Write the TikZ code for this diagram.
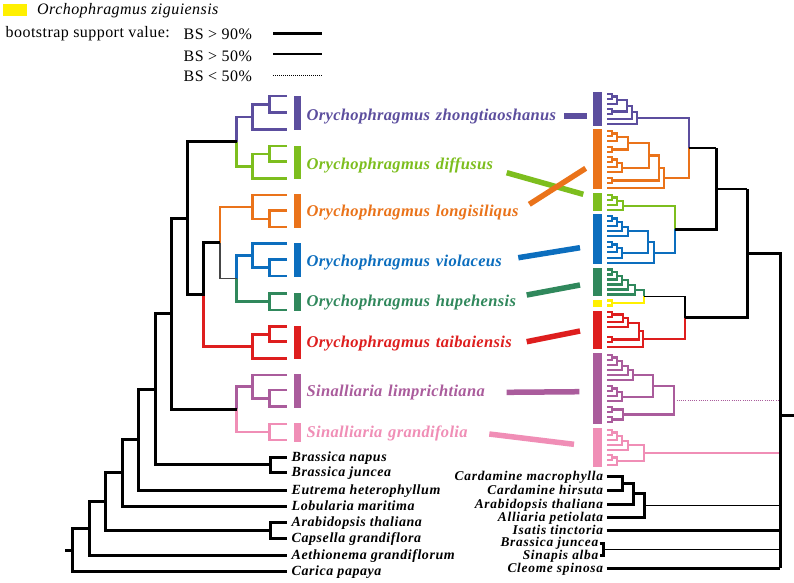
\documentclass[tikz,border=0pt]{standalone}
\usepackage{fontspec}
\setmainfont{Liberation Serif}
\newfontfamily\labfont[LetterSpace=2,WordSpace=1.3]{Liberation Serif}
\newfontfamily\blkfont[LetterSpace=4]{Liberation Serif}
\newfontfamily\blkrfont[LetterSpace=5.5]{Liberation Serif}
\newfontfamily\legfont[LetterSpace=2.8]{Liberation Serif}
\definecolor{cPu}{RGB}{92,78,158}
\definecolor{cGr}{RGB}{125,190,30}
\definecolor{cOr}{RGB}{234,115,26}
\definecolor{cBl}{RGB}{12,110,190}
\definecolor{cHu}{RGB}{48,136,92}
\definecolor{cRe}{RGB}{222,30,30}
\definecolor{cLi}{RGB}{170,92,156}
\definecolor{cPi}{RGB}{240,142,182}
\definecolor{cYe}{RGB}{255,240,0}
\definecolor{cGy}{RGB}{70,70,70}
% bracket: x1 y1 x2 y2 nodex
\newcommand\tbr[6][]{\draw[#1] (#2,#3) -| (#6,#5) -- (#4,#5);}
\tikzset{
  thk/.style={line width=3pt,black},
  med/.style={line width=1.9pt,black},
  thn/.style={line width=1.4pt,black},
  lt/.style={line width=2.6pt},
  rt/.style={line width=2.1pt},
  conn/.style={line width=5.5pt},
  collab/.style={anchor=base west,inner sep=0pt,text depth=0pt,font=\labfont\bfseries\itshape\fontsize{16.5}{18}\selectfont},
  blklab/.style={anchor=base west,inner sep=0pt,text depth=0pt,font=\blkfont\bfseries\itshape\fontsize{14}{16}\selectfont},
  blkrlab/.style={anchor=base east,inner sep=0pt,text depth=0pt,font=\blkrfont\bfseries\itshape\fontsize{13.4}{15}\selectfont},
  leglab/.style={anchor=base west,inner sep=0pt,font=\legfont\fontsize{16}{18}\selectfont},
}
\begin{document}
\begin{tikzpicture}[x=1pt,y=-1pt,line join=miter]
\useasboundingbox (0,0) rectangle (794,582);
\fill[white] (0,0) rectangle (794,582);
% ---------------- legend
\fill[cYe] (3.3,4) rectangle (26.7,15.7);
\node[leglab] (lz) at (37,14.7) {\itshape Orchophragmus ziguiensis};
\node[leglab] (lbs) at (5.5,37.3) {bootstrap support value:};
\node[leglab] (l90) at (183.5,39.3) {BS > 90\%};
\node[leglab] (l50) at (183.5,61.7) {BS > 50\%};
\node[leglab] (l49) at (183.5,81.7) {BS < 50\%};
\draw[line width=3pt] (273.3,33.3) -- (321.7,33.3);
\draw[line width=1.7pt] (273.3,54.3) -- (321.7,54.3);
\draw[line width=1.1pt,dash pattern=on 1pt off 1pt] (273.3,75.3) -- (321.7,75.3);
% ---------------- left tree, coloured clades
\begin{scope}[lt,cPu]
\tbr{287}{96}{287}{112.7}{269.3}
\tbr{269.3}{104.35}{287}{129.3}{252.7}
\draw (252.7,116.8) -| (236.7,141.5);
\end{scope}
\begin{scope}[lt,cGr]
\tbr{287}{146}{287}{161.7}{269.3}
\tbr{269.3}{153.85}{287}{178.7}{252.7}
\draw (252.7,166.3) -| (236.7,141.5);
\end{scope}
\begin{scope}[lt,cOr]
\tbr{287}{210.7}{287}{227}{269.3}
\tbr{287}{195}{269.3}{218.85}{252.7}
\draw[line width=1.4pt] (252.7,206.9) -| (220,242.75);
\end{scope}
\begin{scope}[lt,cBl]
\tbr{287}{259.3}{287}{276}{269.3}
\tbr{287}{243.3}{269.3}{267.65}{252.7}
\draw (252.7,255.5) -| (236.7,278.6);
\end{scope}
\begin{scope}[lt,cHu]
\tbr{287}{293.3}{287}{310}{269.3}
\draw (269.3,301.65) -| (236.7,278.6);
\end{scope}
\draw[line width=1.4pt,cGy] (236.7,278.6) -| (220,242.75);
\begin{scope}[lt,cRe]
\tbr{287}{326.7}{287}{341.7}{269.3}
\tbr{269.3}{334.2}{287}{358.3}{252.7}
\draw (252.7,346.25) -| (203.3,294.5);
\end{scope}
\begin{scope}[lt,cLi]
\tbr{287}{390}{287}{406.7}{269.3}
\tbr{287}{375}{269.3}{398.35}{252.7}
\draw (252.7,386.7) -| (236.7,409.35);
\end{scope}
\begin{scope}[lt,cPi]
\tbr{287}{424}{287}{440}{269.3}
\draw (269.3,432) -| (236.7,409.35);
\end{scope}
% left tree, black backbone
\begin{scope}[thk]
\draw (236.7,141.5) -| (187.3,294.5) -- (203.3,294.5) -- (203.3,242.75) -- (220,242.75);
\draw (187.3,218) -| (171.7,409.35) -- (236.7,409.35);
\draw (171.7,313.7) -| (155,464.8) -- (270,464.8);
\tbr{286.7}{457.3}{286.7}{472.3}{270}
\draw (155,389.25) -| (138.3,490) -- (286.7,490);
\draw (138.3,439.6) -| (122.3,506) -- (286.7,506);
\draw (122.3,472.8) -| (105.7,530.15) -- (270,530.15);
\tbr{286.7}{522}{286.7}{538.7}{270}
\draw (105.7,501.5) -| (89.3,555.7) -- (286.7,555.7);
\draw (89.3,528.6) -| (72.3,571.7) -- (286.7,571.7);
\draw (65,550.15) -- (72.3,550.15);
\end{scope}
% left bars
\fill[cPu] (294.3,96) rectangle (301,130);
\fill[cGr] (294.3,146) rectangle (301,179.3);
\fill[cOr] (294.3,194.3) rectangle (301,228.3);
\fill[cBl] (294.3,243.3) rectangle (301,276.7);
\fill[cHu] (294.3,292.7) rectangle (301,310.7);
\fill[cRe] (294.3,326) rectangle (301,359.3);
\fill[cLi] (294.3,374.3) rectangle (301,408.3);
\fill[cPi] (294.3,423.3) rectangle (301,441.7);
% left labels
\node[collab,text=cPu] (tzh) at (306.5,120) {Orychophragmus zhongtiaoshanus};
\node[collab,text=cGr] (tdi) at (306.5,169.3) {Orychophragmus diffusus};
\node[collab,text=cOr] (tlo) at (306.5,216.7) {Orychophragmus longisiliqus};
\node[collab,text=cBl] (tvi) at (306.5,266) {Orychophragmus violaceus};
\node[collab,text=cHu] (thu) at (306.5,306.3) {Orychophragmus hupehensis};
\node[collab,text=cRe] (tta) at (306.5,347.7) {Orychophragmus taibaiensis};
\node[collab,text=cLi] (tli) at (306.5,396.7) {Sinalliaria limprichtiana};
\node[collab,text=cPi] (tgr) at (306.5,437.3) {Sinalliaria grandifolia};
\node[blklab] (bn1) at (291.5,461.3) {Brassica napus};
\node[blklab] (bn2) at (291.5,476.3) {Brassica juncea};
\node[blklab] (bn3) at (291.5,494) {Eutrema heterophyllum};
\node[blklab] (bn4) at (291.5,510) {Lobularia maritima};
\node[blklab] (bn5) at (291.5,526) {Arabidopsis thaliana};
\node[blklab] (bn6) at (291.5,542.7) {Capsella grandiflora};
\node[blklab] (bn7) at (291.5,559.7) {Aethionema grandiflorum};
\node[blklab] (bn8) at (291.5,575.7) {Carica papaya};
% ---------------- connectors
\coordinate (a1) at (564,116);   \coordinate (b1) at (586.7,116);
\coordinate (a2) at (506.7,172.7); \coordinate (b2) at (583.3,194.3);
\coordinate (a3) at (529.3,204.3); \coordinate (b3) at (585.7,168.3);
\coordinate (a4) at (518.3,257.7); \coordinate (b4) at (580,247.7);
\coordinate (a5) at (526.7,295);   \coordinate (b5) at (580,285);
\coordinate (a6) at (526.7,341.7); \coordinate (b6) at (580,331);
\coordinate (a7) at (506.7,392.3); \coordinate (b7) at (579.3,391.7);
\coordinate (a8) at (489.3,434);   \coordinate (b8) at (574,444.3);
\draw[conn,cPu] (a1) -- (b1);
\draw[conn,cGr] (a2) -- (b2);
\draw[conn,cOr] (a3) -- (b3);
\draw[conn,cBl] (a4) -- (b4);
\draw[conn,cHu] (a5) -- (b5);
\draw[conn,cRe] (a6) -- (b6);
\draw[conn,cLi] (a7) -- (b7);
\draw[conn,cPi] (a8) -- (b8);
% ---------------- right bars
\fill[cPu] (593.3,92.3) rectangle (601.7,125.7);
\fill[cOr] (593.3,129.3) rectangle (601.7,189.3);
\fill[cGr] (593.3,193.3) rectangle (601.7,211);
\fill[cBl] (593.3,214.3) rectangle (601.7,264);
\fill[cHu] (593.3,268.3) rectangle (601.7,296);
\fill[cYe] (593.3,300) rectangle (601.7,306.7);
\fill[cRe] (593.3,310.7) rectangle (601.7,349.3);
\fill[cLi] (593.3,353.3) rectangle (601.7,424);
\fill[cPi] (593.3,427.7) rectangle (601.7,466.7);
% ---------------- right tree
\begin{scope}[rt,cPu]
\tbr{607}{94}{607}{99}{612}
\tbr{612}{96.5}{607}{104}{617}
\tbr{607}{109}{607}{114}{612}
\tbr{617}{100.25}{612}{111.5}{627}
\tbr{627}{105.9}{607}{119}{632}
\tbr{632}{112.4}{607}{124}{637}
\draw (637,118.2) -| (689.3,148.1);
\end{scope}
\begin{scope}[rt,cOr]
\tbr{607}{131}{607}{136}{612}
\tbr{612}{133.5}{607}{141}{617}
\tbr{607}{147}{607}{152}{612}
\tbr{617}{137.25}{612}{149.5}{628.3}
\tbr{607}{157}{607}{162}{612}
\tbr{612}{159.5}{607}{167}{617}
\tbr{617}{163.25}{607}{172}{622}
\tbr{628.3}{143.4}{622}{167.6}{649.3}
\tbr{607}{178}{607}{183}{612}
\tbr{649.3}{155.5}{612}{180.5}{659.3}
\tbr{659.3}{168}{607}{188}{664}
\draw (664,178) -| (689.3,148.1);
\end{scope}
\begin{scope}[rt,cGr]
\tbr{607}{195}{607}{200}{612}
\tbr{612}{197.5}{607}{205}{617}
\tbr{617}{201.25}{607}{210}{623}
\draw (623,205.6) -| (675,229.1);
\end{scope}
\begin{scope}[rt,cBl]
\tbr{607}{216}{607}{221}{612}
\tbr{612}{218.5}{607}{226}{617}
\tbr{617}{222.25}{607}{231}{622}
\tbr{622}{226.6}{607}{236}{627.7}
\tbr{607}{242}{607}{247}{612}
\tbr{612}{244.5}{607}{252}{617}
\tbr{617}{248.25}{607}{258}{622.3}
\tbr{627.7}{231.3}{622.3}{253.1}{648.3}
\tbr{648.3}{242.2}{607}{263}{654.3}
\draw (654.3,252.6) -| (675,229.1);
\end{scope}
\begin{scope}[rt,cHu]
\tbr{607}{269.5}{607}{274.5}{612}
\tbr{612}{272}{607}{279.5}{617}
\tbr{617}{275.75}{607}{284.5}{622}
\tbr{622}{280.1}{607}{289.5}{628}
\tbr{628}{284.8}{607}{294.5}{635}
\draw (635,289.65) -| (644,296.3);
\end{scope}
\begin{scope}[rt,cYe]
\tbr{607}{300.5}{607}{305.5}{611.7}
\draw (611.7,303) -| (644,296.3);
\end{scope}
\begin{scope}[rt,cRe]
\tbr{607}{312}{607}{317}{612}
\tbr{612}{314.5}{607}{322}{622.7}
\tbr{622.7}{318.25}{607}{327}{628.3}
\tbr{607}{337}{607}{342}{612}
\tbr{628.3}{322.6}{612}{339.5}{639}
\tbr{639}{331.05}{607}{347}{643.3}
\draw (643.3,339) -| (685,317.65);
\end{scope}
\begin{scope}[rt,cLi]
\tbr{607}{355}{607}{360}{612}
\tbr{612}{357.5}{607}{365}{617}
\tbr{617}{361.25}{607}{370}{622}
\tbr{622}{365.6}{607}{375}{628}
\tbr{628}{370.3}{607}{380}{633.3}
\tbr{607}{386}{607}{391}{612}
\tbr{612}{388.5}{607}{396}{617}
\tbr{617}{392.25}{607}{401}{622.3}
\tbr{633.3}{375.15}{622.3}{396.6}{653.3}
\tbr{607}{407}{607}{412}{612}
\tbr{607}{417}{607}{422}{612}
\tbr{612}{409.5}{612}{419.5}{623.3}
\tbr{653.3}{385.9}{623.3}{414.5}{674.3}
\draw[line width=1.1pt,dash pattern=on 1pt off 1.2pt] (674.3,400.2) -- (780,400.2);
\end{scope}
\begin{scope}[rt,cPi]
\tbr{607}{430}{607}{435}{612}
\tbr{612}{432.5}{607}{440}{617}
\tbr{617}{436.25}{607}{445}{622}
\tbr{622}{440.6}{607}{450}{628}
\tbr{607}{455}{607}{460}{612}
\tbr{612}{457.5}{607}{465}{617}
\tbr{628}{445.3}{617}{461.25}{644.3}
\draw (644.3,453.3) -- (780,453.3);
\end{scope}
% right tree black backbone
\draw[thn] (689.3,148.1) -- (716,148.1);
\draw[thk] (675,229.1) -| (716,148.1);
\draw[med] (716,188.6) -- (747.3,188.6);
\draw[thn] (644,296.3) -- (685,296.3) -- (685,317.65);
\draw[thk] (685,317.65) -| (747.3,188.6);
\draw[thk] (747.3,253.1) -| (780,568.3);
\draw[thk] (780,415) -- (794,415);
% bottom right
\node[blkrlab] (r1) at (603.3,480.7) {Cardamine macrophylla};
\node[blkrlab] (r2) at (603.3,494.7) {Cardamine hirsuta};
\node[blkrlab] (r3) at (603.3,508) {Arabidopsis thaliana};
\node[blkrlab] (r4) at (603.3,521.3) {Alliaria petiolata};
\node[blkrlab] (r5) at (603.3,534.7) {Isatis tinctoria};
\node[blkrlab] (r6) at (598.5,546.6) {Brassica juncea};
\node[blkrlab] (r7) at (598.5,559.6) {Sinapis alba};
\node[blkrlab] (r8) at (603.3,572.3) {Cleome spinosa};
\begin{scope}[thk]
\tbr{606.7}{476.7}{606.7}{490.7}{622.7}
\tbr{622.7}{483.7}{606.7}{504}{633.3}
\tbr{633.3}{493.9}{606.7}{517.3}{644}
\draw (606.7,530.7) -- (780,530.7);
\draw (606.7,568.3) -- (780,568.3);
\tbr{599.5}{543.3}{599.5}{555}{603.5}
\end{scope}
\draw[thn] (644,505.6) -- (780,505.6);
\draw[thn] (603.5,549.2) -- (780,549.2);
\end{tikzpicture}
\end{document}
